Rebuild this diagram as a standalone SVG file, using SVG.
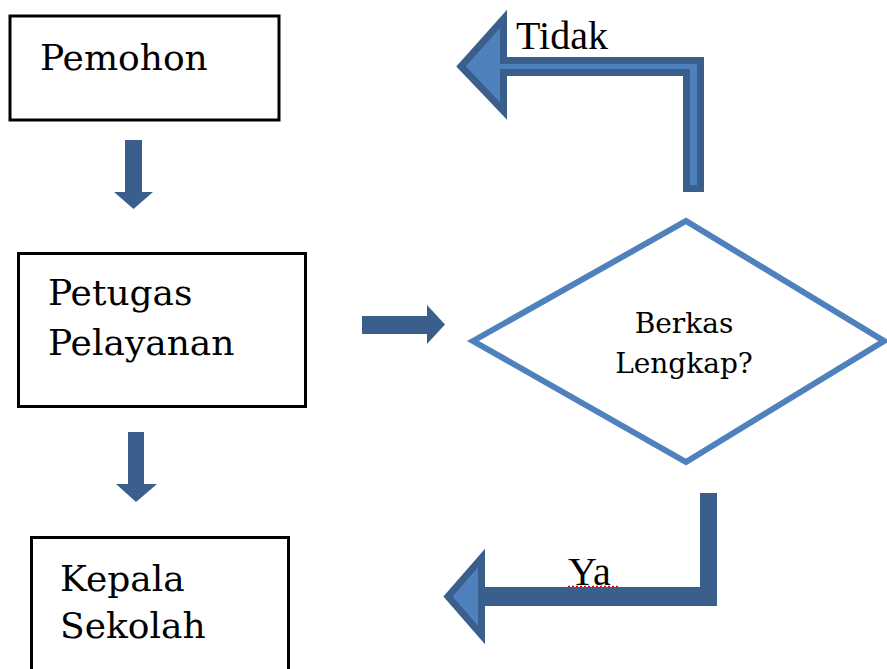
<svg xmlns="http://www.w3.org/2000/svg" width="887" height="669" viewBox="0 0 887 669">
<style>
.box{fill:#fff;stroke:#000;stroke-width:3}
.lbl{font-family:"DejaVu Serif",serif;font-size:36px;fill:#000}
.dlbl{font-family:"DejaVu Serif",serif;font-size:28px;fill:#000;text-anchor:middle}
.tlbl{font-family:"Liberation Serif",serif;font-size:40px;fill:#000}
.solid{fill:#3b5f8d}
.bent{fill:#4f81bd;stroke:#3b5f8d;stroke-width:7;stroke-linejoin:miter}
</style>
<rect width="887" height="669" fill="#fff"/>
<g id="connectors">
  <g id="arrow-pemohon-petugas">
    <rect class="solid" x="125" y="140" width="17" height="53"/>
    <polygon class="solid" points="114,192 153,192 133.5,209"/>
  </g>
  <g id="arrow-petugas-kepala">
    <rect class="solid" x="128" y="432" width="16" height="53"/>
    <polygon class="solid" points="116,484 157,484 136,502"/>
  </g>
  <g id="arrow-petugas-berkas">
    <rect class="solid" x="362" y="316" width="67" height="18"/>
    <polygon class="solid" points="427,305 427,344 445,324.5"/>
  </g>
  <g id="arrow-tidak">
    <path class="bent" d="M700.5,188.5 L700.5,60.5 L503.5,60.5 L503.5,19 L461,66.5 L503.5,111 L503.5,72.5 L686.5,72.5 L686.5,188.5 Z"/>
  </g>
  <g id="arrow-ya">
    <path class="solid" d="M700,493 L717,493 L717,606 L482,606 L482,587 L700,587 Z"/>
    <polygon class="bent" points="481.5,558 481.5,635 448,596.5"/>
  </g>
  <text class="tlbl" x="516" y="49">Tidak</text>
  <text class="tlbl" x="568" y="585">Ya</text>
  <line x1="568" y1="586.5" x2="620" y2="586.5" stroke="#e00000" stroke-width="1.5" stroke-dasharray="2,2"/>
</g>
<g id="node-pemohon">
  <rect class="box" x="10" y="16" width="269" height="104"/>
  <text class="lbl" x="40" y="70">Pemohon</text>
</g>
<g id="node-petugas">
  <rect class="box" x="18.5" y="253.5" width="287" height="153"/>
  <text class="lbl" x="48" y="305">Petugas</text>
  <text class="lbl" x="48" y="355">Pelayanan</text>
</g>
<g id="node-kepala">
  <rect class="box" x="31.5" y="537.5" width="257" height="150"/>
  <text class="lbl" x="60" y="591">Kepala</text>
  <text class="lbl" x="60" y="638">Sekolah</text>
</g>
<g id="node-berkas">
  <polygon points="473,341 686,221 884,341 686,462" fill="#fff" stroke="#4f81bd" stroke-width="6"/>
  <text class="dlbl" x="684" y="333">Berkas</text>
  <text class="dlbl" x="684" y="373">Lengkap?</text>
</g>
</svg>
